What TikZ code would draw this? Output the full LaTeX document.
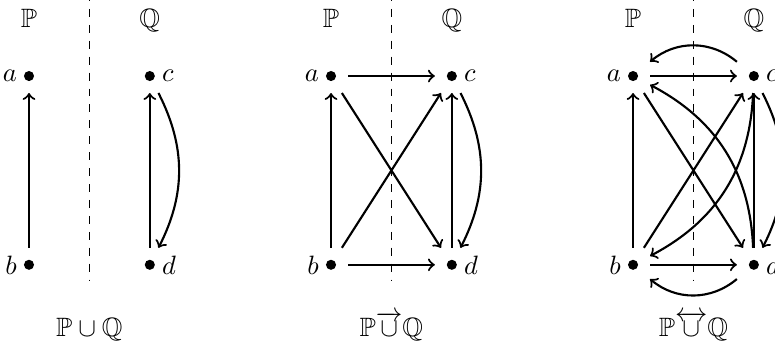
\documentclass[tikz,border=0pt]{standalone}
\usepackage{amsmath,amssymb}
\usetikzlibrary{positioning, calc}

\begin{document}
\begin{tikzpicture}[
    node distance=2.5cm and 1.6cm, on grid,
    vtx/.style={rectangle, minimum size=12.4pt, inner sep=0pt, path picture={\fill (path picture bounding box.center) circle (1.9pt);}},
    lbl/.style={inner sep=0pt, label distance=-2pt},
    arrow/.style={thick, ->},
    divider/.style={thin, dashed}
]
\useasboundingbox (-0.384,1.007) rectangle (9.88,-3.576);

% Nodes: P \cup Q
\node (a1) [vtx, label={[lbl]left:$a$}] at (0,0) {};
\node (b1) [vtx, below=of a1, label={[lbl]left:$b$}] {};
\node (c1) [vtx, right=of a1, label={[lbl]right:$c$}] {};
\node (d1) [vtx, right=of b1, label={[lbl]right:$d$}] {};

% Nodes: directed union
\node (a2) [vtx, right=4cm of a1, label={[lbl]left:$a$}] {};
\node (b2) [vtx, below=of a2, label={[lbl]left:$b$}] {};
\node (c2) [vtx, right=of a2, label={[lbl]right:$c$}] {};
\node (d2) [vtx, right=of b2, label={[lbl]right:$d$}] {};

% Nodes: two-way union
\node (a3) [vtx, right=4cm of a2, label={[lbl]left:$a$}] {};
\node (b3) [vtx, below=of a3, label={[lbl]left:$b$}] {};
\node (c3) [vtx, right=of a3, label={[lbl]right:$c$}] {};
\node (d3) [vtx, right=of b3, label={[lbl]right:$d$}] {};

% Headers, dividers and captions
\node (p1) [anchor=base] at ($(a1)+(0,0.645)$) {$\mathbb{P}$};
\node (q1) [anchor=base] at ($(c1)+(0,0.645)$) {$\mathbb{Q}$};
\node (p2) [anchor=base] at ($(a2)+(0,0.645)$) {$\mathbb{P}$};
\node (q2) [anchor=base] at ($(c2)+(0,0.645)$) {$\mathbb{Q}$};
\node (p3) [anchor=base] at ($(a3)+(0,0.645)$) {$\mathbb{P}$};
\node (q3) [anchor=base] at ($(c3)+(0,0.645)$) {$\mathbb{Q}$};

\coordinate (top1) at ($(a1)!0.5!(c1)+(0,1.1)$);
\coordinate (bot1) at ($(b1)!0.5!(d1)+(0,-0.2)$);
\coordinate (top2) at ($(a2)!0.5!(c2)+(0,1.1)$);
\coordinate (bot2) at ($(b2)!0.5!(d2)+(0,-0.2)$);
\coordinate (top3) at ($(a3)!0.5!(c3)+(0,1.1)$);
\coordinate (bot3) at ($(b3)!0.5!(d3)+(0,-0.2)$);
\draw [divider] (top1) -- (bot1);
\draw [divider] (top2) -- (bot2);
\draw [divider] (top3) -- (bot3);

\node (cap1) [anchor=base] at ($(b1)!0.5!(d1)+(0,-0.95)$) {$\mathbb{P}\cup\mathbb{Q}$};
\node (cap2) [anchor=base] at ($(b2)!0.5!(d2)+(0,-0.95)$) {$\mathbb{P}\overrightarrow{\cup}\mathbb{Q}$};
\node (cap3) [anchor=base] at ($(b3)!0.5!(d3)+(0,-0.95)$) {$\mathbb{P}\overleftrightarrow{\cup}\mathbb{Q}$};

% Arrows
\draw [arrow] (b1) -- (a1);
\draw [arrow] (d1) -- (c1);
\draw [arrow] (c1) to[bend left=27] (d1);

\draw [arrow] (b2) -- (a2);
\draw [arrow] (a2) -- (c2);
\draw [arrow] (b2) -- (d2);
\draw [arrow] (a2) -- (d2);
\draw [arrow] (b2) -- (c2);
\draw [arrow] (d2) -- (c2);
\draw [arrow] (c2) to[bend left=27] (d2);

\draw [arrow] (b3) -- (a3);
\draw [arrow] (a3) -- (c3);
\draw [arrow] (c3) to[bend right=40] (a3);
\draw [arrow] (b3) -- (d3);
\draw [arrow] (d3) to[bend left=40] (b3);
\draw [arrow] (a3) -- (d3);
\draw [arrow] (b3) -- (c3);
\draw [arrow] (c3) to[bend left=30] (b3);
\draw [arrow] (d3) to[bend right=30] (a3);
\draw [arrow] (d3) -- (c3);
\draw [arrow] (c3) to[bend left=27] (d3);

\end{tikzpicture}
\end{document}
